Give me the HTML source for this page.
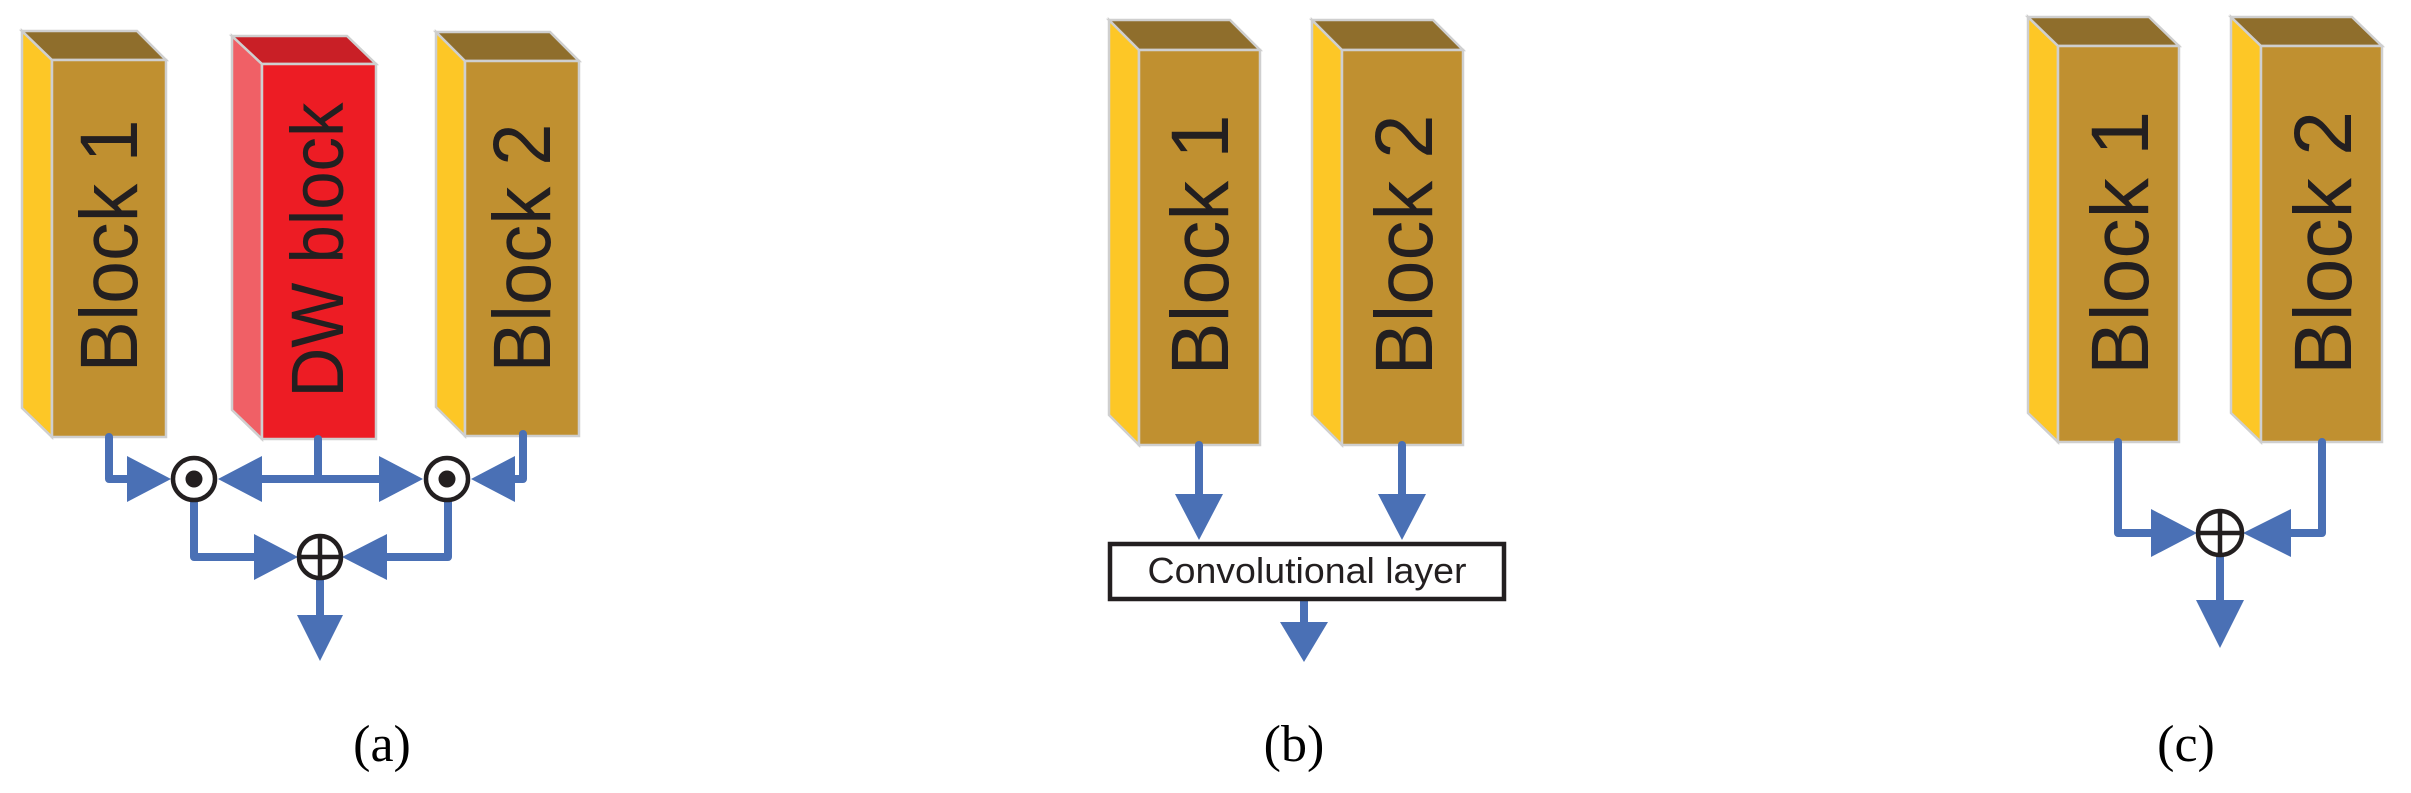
<!DOCTYPE html>
<html><head><meta charset="utf-8"><style>html,body{margin:0;padding:0;background:#fff}svg{display:block}</style></head>
<body>
<svg width="2411" height="793" viewBox="0 0 2411 793" xmlns="http://www.w3.org/2000/svg">
<defs>
<g id="none"></g>
</defs>
<g stroke="#cfcfcf" stroke-width="2.5" stroke-linejoin="miter">
<!-- Panel a Block1 -->
<polygon points="22,31 52,60 52,437 22,408" fill="#FDC726"/>
<polygon points="22,31 137,31 166,60 52,60" fill="#8F6E2C"/>
<rect x="52" y="60" width="114" height="377" fill="#C09030"/>
<!-- DW -->
<polygon points="232,36 262,64 262,439 232,410" fill="#F06066"/>
<polygon points="232,36 347,36 376,64 262,64" fill="#C91F26"/>
<rect x="262" y="64" width="114" height="375" fill="#ED1C24"/>
<!-- Panel a Block2 -->
<polygon points="436,32 465,61 465,436 436,407" fill="#FDC726"/>
<polygon points="436,32 550,32 579,61 465,61" fill="#8F6E2C"/>
<rect x="465" y="61" width="114" height="375" fill="#C09030"/>
<!-- Panel b -->
<polygon points="1109,20 1139,50 1139,445 1109,415" fill="#FDC726"/>
<polygon points="1109,20 1230,20 1260,50 1139,50" fill="#8F6E2C"/>
<rect x="1139" y="50" width="121" height="395" fill="#C09030"/>
<polygon points="1312,20 1342,50 1342,445 1312,415" fill="#FDC726"/>
<polygon points="1312,20 1433,20 1463,50 1342,50" fill="#8F6E2C"/>
<rect x="1342" y="50" width="121" height="395" fill="#C09030"/>
<!-- Panel c -->
<polygon points="2028,17 2058,46 2058,442 2028,413" fill="#FDC726"/>
<polygon points="2028,17 2149,17 2179,46 2058,46" fill="#8F6E2C"/>
<rect x="2058" y="46" width="121" height="396" fill="#C09030"/>
<polygon points="2231,17 2261,46 2261,442 2231,413" fill="#FDC726"/>
<polygon points="2231,17 2352,17 2382,46 2261,46" fill="#8F6E2C"/>
<rect x="2261" y="46" width="121" height="396" fill="#C09030"/>
</g>
<g font-family="Liberation Sans, sans-serif" fill="#231F20" text-anchor="middle">
<text transform="translate(137,246) rotate(-90)" font-size="82" textLength="253" lengthAdjust="spacingAndGlyphs">Block 1</text>
<text transform="translate(343,250) rotate(-90)" font-size="74" textLength="295" lengthAdjust="spacingAndGlyphs">DW block</text>
<text transform="translate(550,248) rotate(-90)" font-size="82" textLength="249" lengthAdjust="spacingAndGlyphs">Block 2</text>
<text transform="translate(1228,245) rotate(-90)" font-size="82" textLength="261" lengthAdjust="spacingAndGlyphs">Block 1</text>
<text transform="translate(1432,245) rotate(-90)" font-size="82" textLength="261" lengthAdjust="spacingAndGlyphs">Block 2</text>
<text transform="translate(2148,243) rotate(-90)" font-size="82" textLength="264" lengthAdjust="spacingAndGlyphs">Block 1</text>
<text transform="translate(2351,243) rotate(-90)" font-size="82" textLength="264" lengthAdjust="spacingAndGlyphs">Block 2</text>
</g>
<!-- connectors -->
<g stroke="#4A70B5" stroke-width="8" fill="none" stroke-linejoin="round" stroke-linecap="round">
<polyline points="109,437 109,479 130,479"/>
<line x1="318" y1="439" x2="318" y2="479"/>
<line x1="255" y1="479" x2="385" y2="479"/>
<polyline points="523,434 523,479 510,479"/>
<polyline points="194,502 194,557 258,557"/>
<polyline points="448,502 448,557 383,557"/>
<line x1="320" y1="580" x2="320" y2="618"/>
<line x1="1199" y1="445" x2="1199" y2="497"/>
<line x1="1402" y1="445" x2="1402" y2="497"/>
<line x1="1304" y1="598" x2="1304" y2="625"/>
<polyline points="2118,442 2118,533 2155,533"/>
<polyline points="2322,442 2322,533 2287,533"/>
<line x1="2220" y1="556" x2="2220" y2="603"/>
</g>
<g fill="#4A70B5">
<polygon points="127,456 127,502 171,479"/>
<polygon points="262,456 262,502 218,479"/>
<polygon points="379,456 379,502 423,479"/>
<polygon points="515,456 515,502 471,479"/>
<polygon points="254,534 254,580 298,557"/>
<polygon points="387,534 387,580 342,557"/>
<polygon points="297,615 343,615 320,661"/>
<polygon points="1175,494 1223,494 1199,540"/>
<polygon points="1378,494 1426,494 1402,540"/>
<polygon points="1280,622 1328,622 1304,662"/>
<polygon points="2151,509 2151,557 2197,533"/>
<polygon points="2291,509 2291,557 2243,533"/>
<polygon points="2196,600 2244,600 2220,648"/>
</g>
<!-- operators -->
<g stroke="#231F20" stroke-width="4.5" fill="#fff">
<circle cx="194" cy="479" r="21"/>
<circle cx="447" cy="479" r="21"/>
<circle cx="320" cy="557" r="21"/>
<circle cx="2220" cy="533" r="22"/>
</g>
<g fill="#231F20">
<circle cx="194" cy="479" r="8.5"/>
<circle cx="447" cy="479" r="8.5"/>
</g>
<g stroke="#231F20" stroke-width="4.5">
<line x1="299" y1="557" x2="341" y2="557"/><line x1="320" y1="536" x2="320" y2="578"/>
<line x1="2198" y1="533" x2="2242" y2="533"/><line x1="2220" y1="511" x2="2220" y2="555"/>
</g>
<!-- conv layer -->
<rect x="1110" y="544" width="394" height="55" fill="#fff" stroke="#231F20" stroke-width="4.5"/>
<text x="1307" y="583" font-family="Liberation Sans, sans-serif" font-size="36" fill="#231F20" text-anchor="middle" textLength="319" lengthAdjust="spacingAndGlyphs">Convolutional layer</text>
<!-- labels -->
<g font-family="Liberation Serif, serif" font-size="52" fill="#000" text-anchor="middle">
<text x="382" y="761">(a)</text>
<text x="1294" y="761">(b)</text>
<text x="2186" y="761">(c)</text>
</g>
</svg>
</body></html>
